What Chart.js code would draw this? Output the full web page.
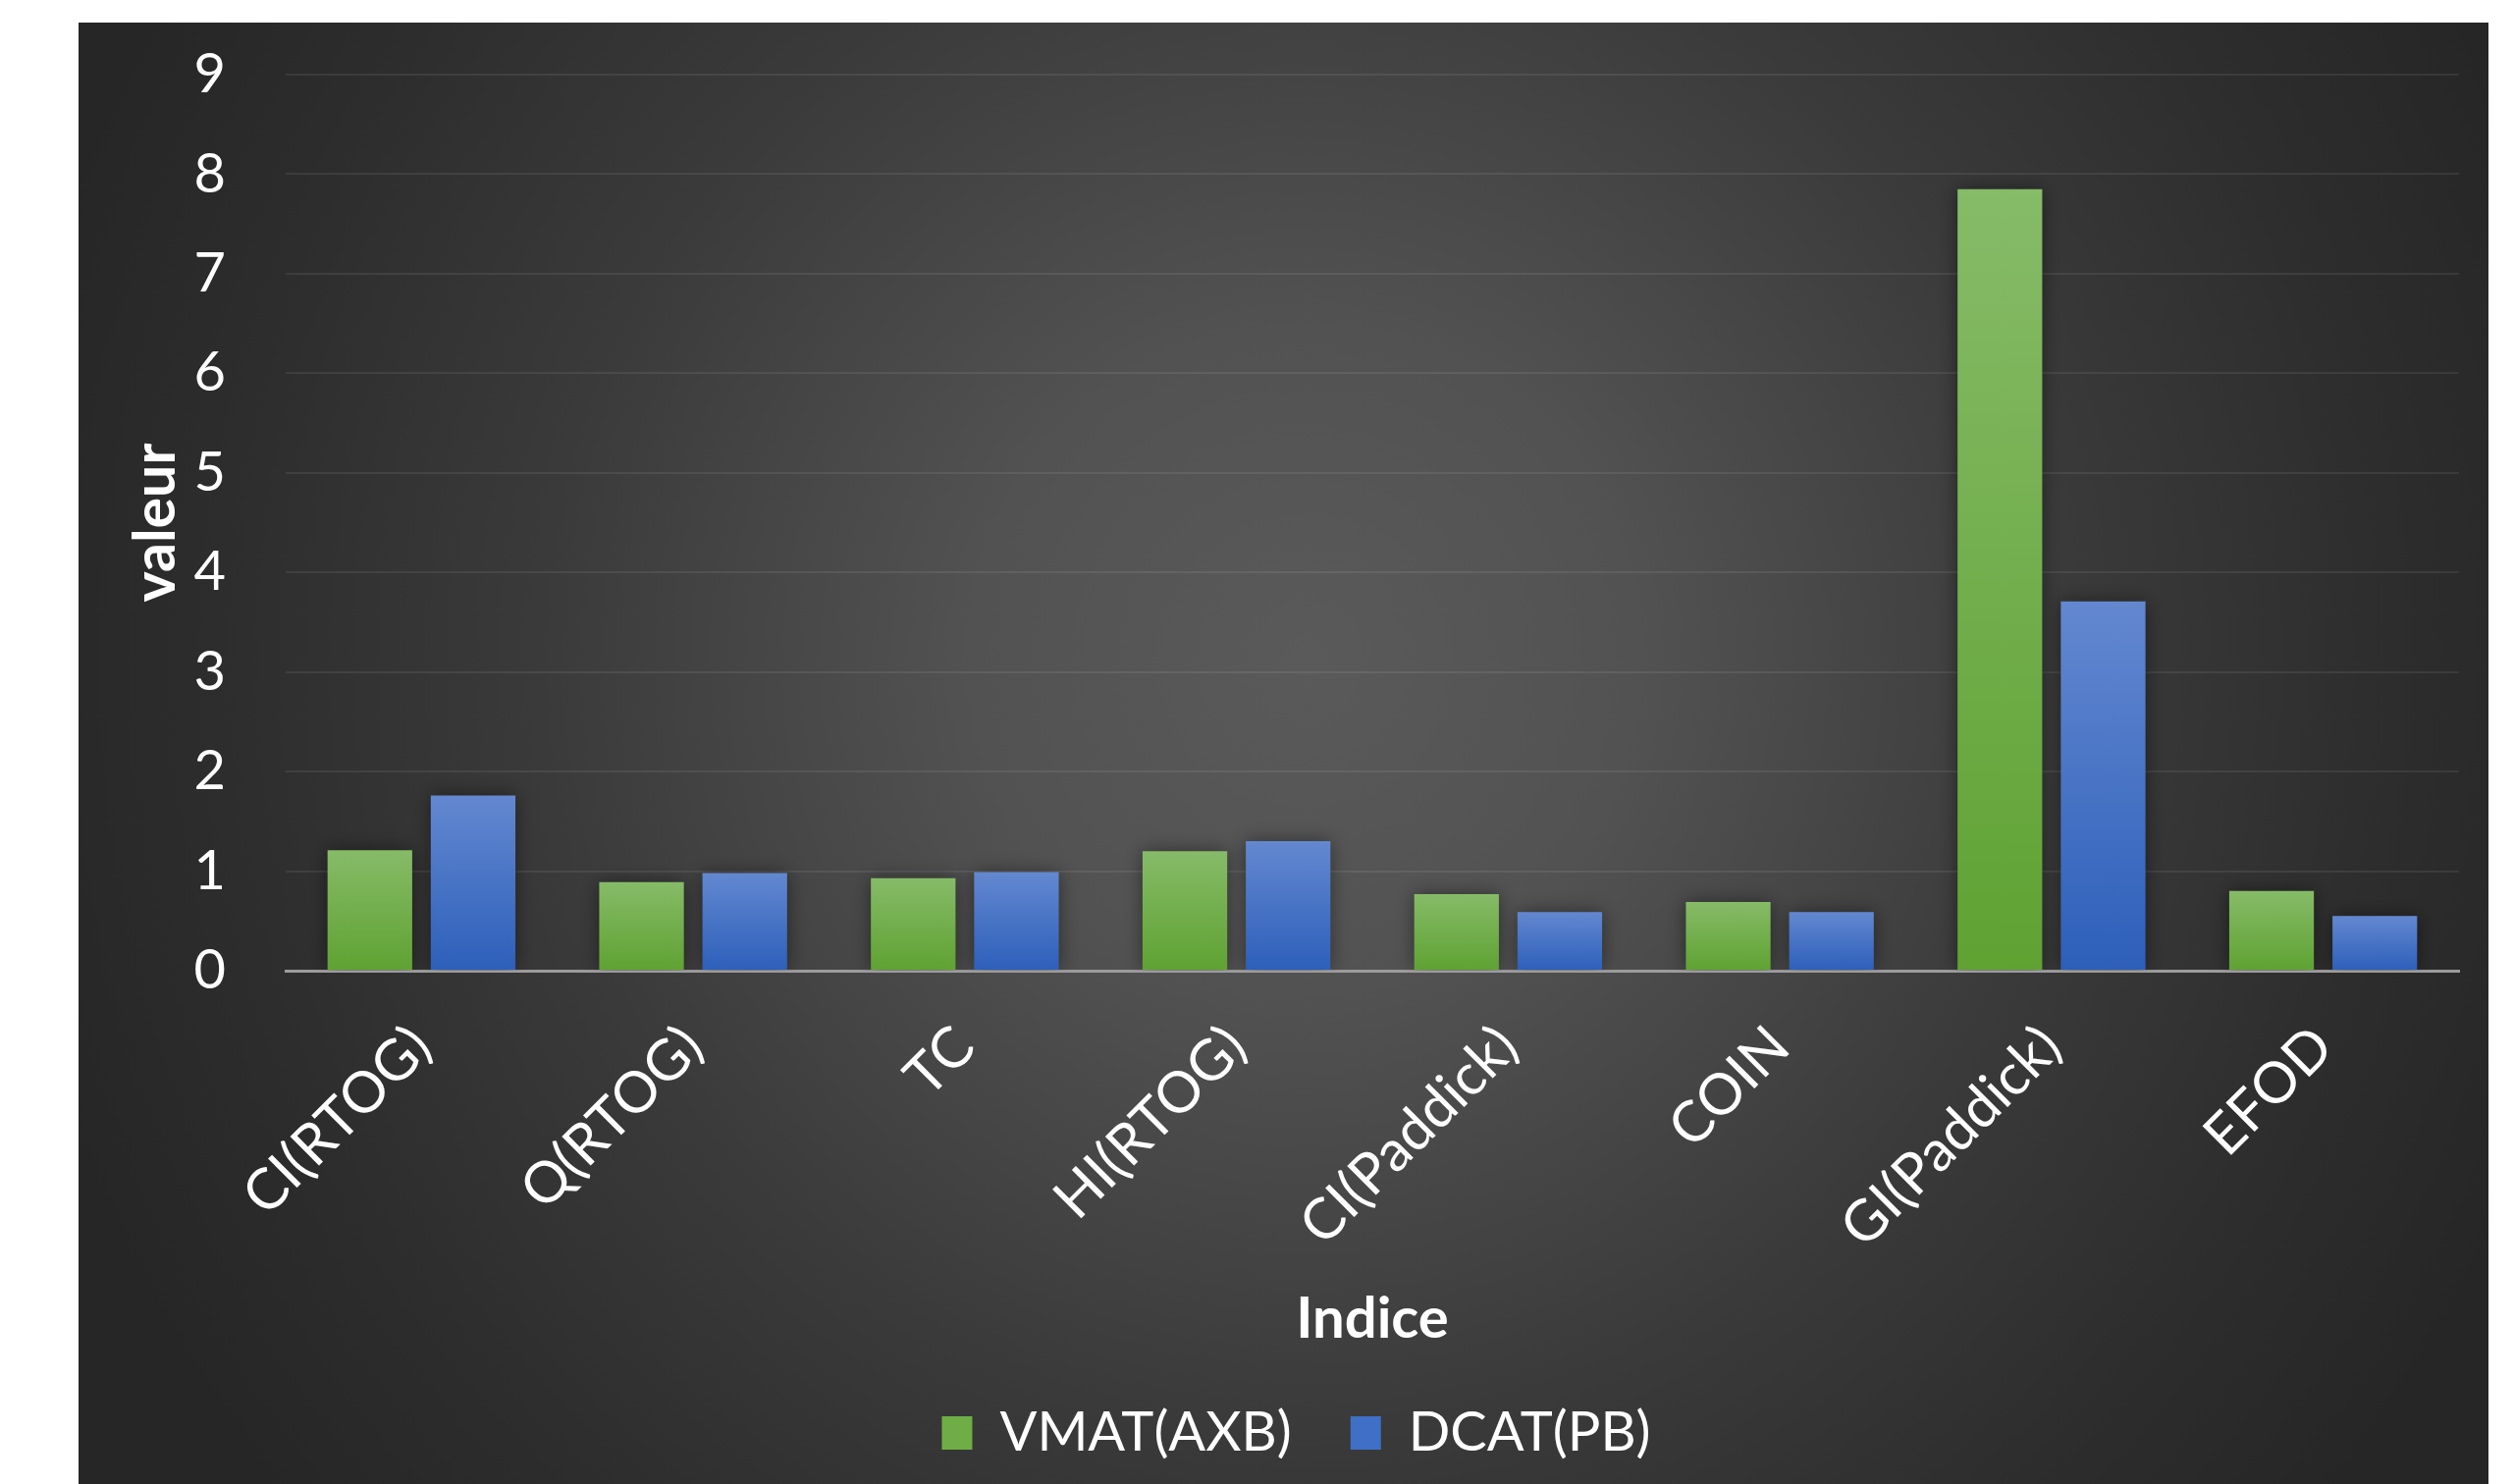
<!DOCTYPE html>
<html>
<head>
<meta charset="utf-8">
<script src="https://cdn.jsdelivr.net/npm/chart.js@4.4.0/dist/chart.umd.min.js"></script>
<style>
	html, body { margin: 0; padding: 0; background: #fff; }
	#wrap { position: absolute; left: 80px; top: 23px; width: 2455px; height: 1489px; }
</style>
</head>
<body>
<div id="wrap"><canvas id="indiceChart"></canvas></div>
<script>
var categories = ['CI(RTOG)', 'Q(RTOG)', 'TC', 'HI(RTOG)', 'CI(Paddick)', 'COIN', 'GI(Paddick)', 'EFOD'];
var vmatAxb = [1.21, 0.89, 0.93, 1.2, 0.77, 0.69, 7.85, 0.8];
var dcatPb = [1.76, 0.98, 0.99, 1.3, 0.59, 0.59, 3.71, 0.55];
var yMin = 0, yMax = 9, yStep = 1;

var FONT = 'Lato';

// vertical gradient per bar, light at the top, dark at the base
function barFill(topColor, bottomColor) {
	return function(c) {
		var chart = c.chart;
		var y = chart.scales.y;
		if (!chart.chartArea || !y || c.raw == null) return bottomColor;
		var g = chart.ctx.createLinearGradient(0, y.getPixelForValue(c.raw), 0, y.getPixelForValue(0));
		g.addColorStop(0, topColor);
		g.addColorStop(1, bottomColor);
		return g;
	};
}

var background = {
	id: 'background',
	beforeDraw: function(chart) {
		var ctx = chart.ctx;
		var w = chart.width, h = chart.height;
		var g = ctx.createRadialGradient(1250, 650, 0, 1250, 650, 1350);
		g.addColorStop(0, '#5a5a5a');
		g.addColorStop(0.25, '#525252');
		g.addColorStop(0.58, '#3a3a3a');
		g.addColorStop(0.82, '#2d2d2d');
		g.addColorStop(1, '#262626');
		ctx.save();
		ctx.fillStyle = g;
		ctx.fillRect(0, 0, w, h);
		ctx.restore();
	},
	// legend line width counts a trailing padding, re-centre it
	afterLayout: function(chart) {
		chart.legend.left += 28;
		chart.legend.right += 28;
	}
};

var barShadow = {
	id: 'barShadow',
	beforeDatasetsDraw: function(chart) {
		chart.ctx.save();
		chart.ctx.shadowColor = 'rgba(0,0,0,0.45)';
		chart.ctx.shadowBlur = 18;
	},
	afterDatasetsDraw: function(chart) {
		chart.ctx.restore();
	}
};

var config = {
	type: 'bar',
	data: {
		labels: categories,
		datasets: [{
			label: 'VMAT(AXB)',
			data: vmatAxb,
			backgroundColor: barFill('#86bb68', '#5fa232'),
			categoryPercentage: 0.76,
			barPercentage: 0.82
		}, {
			label: 'DCAT(PB)',
			data: dcatPb,
			backgroundColor: barFill('#6388d0', '#2d5fba'),
			categoryPercentage: 0.76,
			barPercentage: 0.82
		}]
	},
	options: {
		responsive: true,
		maintainAspectRatio: false,
		animation: false,
		layout: { padding: { left: 0, right: 30, top: 53, bottom: 14 } },
		plugins: {
			tooltip: { enabled: false },
			legend: {
				display: true,
				position: 'bottom',
				labels: {
					color: '#ffffff',
					font: { family: FONT, size: 56 },
					boxWidth: 31,
					boxHeight: 34,
					padding: 60,
					generateLabels: function(chart) {
						var fills = ['#6fad46', '#3f6fc6'];
						return chart.data.datasets.map(function(ds, i) {
							return { text: ds.label, fillStyle: fills[i], strokeStyle: fills[i], lineWidth: 0, fontColor: '#ffffff', datasetIndex: i };
						});
					}
				}
			}
		},
		scales: {
			x: {
				grid: { display: false },
				border: { display: true, color: '#9c9c9c', width: 3 },
				ticks: {
					color: '#ffffff',
					font: { family: FONT, size: 58 },
					minRotation: 45,
					maxRotation: 45,
					autoSkip: false,
					padding: 35
				},
				title: {
					display: true,
					text: 'Indice',
					color: '#ffffff',
					font: { family: FONT, size: 58, weight: 'bold' },
					padding: { top: 0, bottom: -7 }
				},
				afterFit: function(scale) { scale.height = 383; }
			},
			y: {
				min: yMin,
				max: yMax,
				grid: { color: 'rgba(255,255,255,0.08)', lineWidth: 2, drawTicks: false },
				border: { display: false },
				ticks: {
					stepSize: yStep,
					color: '#ffffff',
					font: { family: FONT, size: 56 },
					padding: 61
				},
				title: {
					display: true,
					text: 'valeur',
					color: '#ffffff',
					font: { family: FONT, size: 59, weight: 'bold' },
					padding: { top: 44, bottom: 0 }
				},
				afterFit: function(scale) {
					scale.width = 211;
					// tick padding is horizontal here, do not let it push the plot down
					scale.paddingTop = 0;
					scale.paddingBottom = 0;
				}
			}
		}
	},
	plugins: [background, barShadow]
};

window.onload = function() {
	var ctx = document.getElementById('indiceChart').getContext('2d');
	window.indiceChart = new Chart(ctx, config);
};
</script>
</body>
</html>
